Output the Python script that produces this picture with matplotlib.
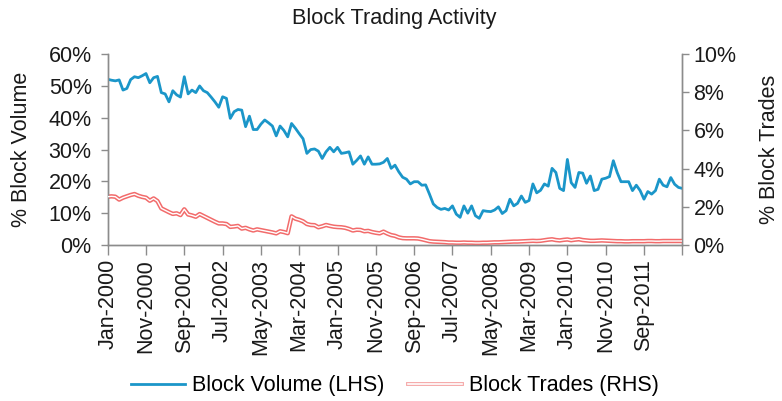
import matplotlib
matplotlib.use("Agg")
import matplotlib.pyplot as plt

plt.rcParams['font.family'] = ['Liberation Sans', 'DejaVu Sans']

tick_labels = ["Jan-2000", "Nov-2000", "Sep-2001", "Jul-2002", "May-2003", "Mar-2004",
               "Jan-2005", "Nov-2005", "Sep-2006", "Jul-2007", "May-2008", "Mar-2009",
               "Jan-2010", "Nov-2010", "Sep-2011", ""]

block_volume = [
    52.1, 51.8, 51.6, 51.9, 48.7, 49.2, 52.0, 52.9, 52.6, 53.2,
    53.9, 51.0, 52.6, 53.0, 47.9, 47.5, 45.0, 48.5, 47.2, 46.5,
    52.9, 47.5, 48.7, 47.9, 50.0, 48.5, 47.9, 46.5, 45.0, 43.3,
    46.6, 46.1, 39.8, 41.9, 42.6, 42.4, 37.2, 40.5, 36.3, 36.3,
    38.0, 39.3, 38.4, 37.4, 34.3, 37.4, 36.0, 34.0, 38.2, 36.7,
    35.0, 33.4, 28.8, 30.0, 30.2, 29.5, 27.2, 29.3, 30.7, 29.3,
    30.7, 28.8, 29.0, 29.3, 25.4, 26.6, 28.0, 25.4, 27.7, 25.4,
    25.4, 25.5, 26.0, 27.2, 24.1, 25.1, 23.0, 21.3, 20.7, 19.2,
    19.9, 19.9, 18.8, 18.9, 16.0, 12.9, 11.8, 11.2, 11.5, 11.0,
    12.3, 9.7, 8.7, 12.3, 10.0, 12.3, 9.2, 8.4, 10.8, 10.6,
    10.5, 11.0, 12.0, 9.9, 10.8, 14.4, 12.3, 13.1, 15.4, 13.4,
    14.0, 19.2, 16.4, 17.2, 19.2, 18.5, 24.1, 22.8, 17.8, 17.1,
    26.9, 19.6, 18.1, 22.8, 22.6, 19.4, 21.7, 17.1, 17.5, 20.7,
    21.0, 21.5, 26.5, 22.8, 19.9, 19.9, 19.9, 17.1, 18.8, 17.1,
    14.4, 16.8, 16.0, 17.1, 20.7, 18.8, 18.3, 21.2, 19.1, 18.1,
    17.8,
]

block_trades = [
    2.53, 2.55, 2.53, 2.38, 2.48, 2.55, 2.62, 2.67, 2.58, 2.52,
    2.48, 2.32, 2.44, 2.30, 1.92, 1.82, 1.72, 1.63, 1.66, 1.57,
    1.87, 1.60, 1.55, 1.48, 1.62, 1.52, 1.42, 1.32, 1.22, 1.13,
    1.13, 1.10, 0.95, 0.97, 1.00, 0.86, 0.90, 0.82, 0.76, 0.82,
    0.78, 0.74, 0.70, 0.66, 0.61, 0.72, 0.68, 0.62, 1.50, 1.38,
    1.32, 1.24, 1.10, 1.05, 1.04, 0.93, 0.98, 1.05, 1.00, 0.96,
    0.94, 0.93, 0.90, 0.84, 0.76, 0.80, 0.79, 0.72, 0.74, 0.68,
    0.64, 0.61, 0.70, 0.60, 0.52, 0.48, 0.40, 0.36, 0.35, 0.35,
    0.35, 0.34, 0.30, 0.25, 0.20, 0.18, 0.17, 0.16, 0.15, 0.13,
    0.13, 0.12, 0.12, 0.13, 0.12, 0.12, 0.11, 0.11, 0.12, 0.12,
    0.13, 0.14, 0.14, 0.15, 0.16, 0.17, 0.18, 0.18, 0.19, 0.20,
    0.21, 0.22, 0.21, 0.22, 0.25, 0.28, 0.30, 0.26, 0.24, 0.27,
    0.29, 0.25, 0.28, 0.30, 0.26, 0.24, 0.22, 0.22, 0.23, 0.24,
    0.23, 0.22, 0.21, 0.20, 0.20, 0.19, 0.19, 0.20, 0.20, 0.20,
    0.20, 0.21, 0.21, 0.20, 0.20, 0.21, 0.21, 0.21, 0.21, 0.21,
    0.21,
]

x = list(range(len(block_volume)))

fig = plt.figure(figsize=(7.82, 4.01), dpi=100)
ax = fig.add_axes([0.1377, 0.389, 0.7348, 0.476])
ax2 = ax.twinx()

blue = '#1b96c9'
red = '#f26b6b'
gray = '#8c8c8c'
txt = '#1a1a1a'
fs = 15.5

ax.plot(x, block_volume, color=blue, lw=2.0, solid_joinstyle='round', zorder=3)
ax2.plot(x, block_trades, color=red, lw=3.2, solid_joinstyle='round', zorder=2)
ax2.plot(x, block_trades, color='white', lw=1.0, solid_joinstyle='round', zorder=3)

ax.set_xlim(0, 150)
ax.set_ylim(0, 60)
ax2.set_ylim(0, 10)

ax.set_yticks(range(0, 61, 10))
ax.set_yticklabels([f"{v}%" for v in range(0, 61, 10)], fontsize=fs)
ax2.set_yticks(range(0, 11, 2))
ax2.set_yticklabels([f"{v}%" for v in range(0, 11, 2)], fontsize=fs)

ax.set_xticks(range(0, 151, 10))
ax.set_xticklabels(tick_labels, rotation=90, fontsize=fs)

for a in (ax, ax2):
    a.spines['top'].set_visible(False)
    for s in ('left', 'right', 'bottom'):
        a.spines[s].set_color(gray)
        a.spines[s].set_linewidth(1.0)
    a.tick_params(colors=gray, labelcolor=txt, length=5, width=1.0, pad=3)
ax.tick_params(axis='y', pad=6.5)
ax.tick_params(axis='x', length=7, pad=3)

ax.set_ylabel("% Block Volume", fontsize=fs, color=txt, labelpad=12)
ax2.set_ylabel("% Block Trades", fontsize=fs, color=txt, labelpad=16)

fig.text(0.5045, 0.955, "Block Trading Activity", ha='center', va='center', fontsize=15.6, color=txt)

from matplotlib.lines import Line2D
from matplotlib.legend_handler import HandlerTuple
h_blue = Line2D([], [], color=blue, lw=2.0)
h_red_o = Line2D([], [], color='#f5a8a8', lw=2.8)
h_red_i = Line2D([], [], color='white', lw=1.2)
fig.legend([h_blue, (h_red_o, h_red_i)], ["Block Volume (LHS)", "Block Trades (RHS)"],
           handler_map={tuple: HandlerTuple(ndivide=1)},
           loc='center', bbox_to_anchor=(0.505, 0.038), ncol=2, frameon=False,
           fontsize=fs, handlelength=2.5, columnspacing=1.1, handletextpad=0.33)

fig.savefig("out.png", dpi=100)
